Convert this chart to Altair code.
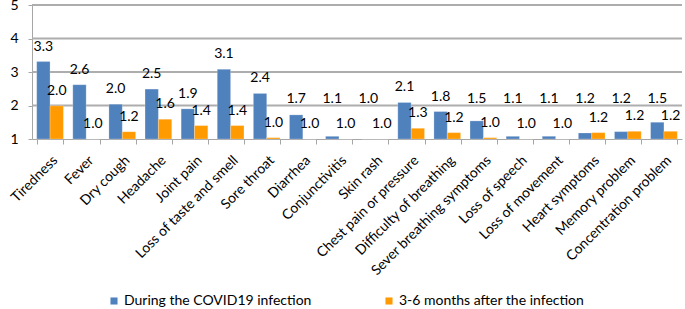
import altair as alt
import pandas as pd

categories = ["Tiredness", "Fever", "Dry cough", "Headache", "Joint pain",
              "Loss of taste and smell", "Sore throat", "Diarrhea", "Conjunctivitis",
              "Skin rash", "Chest pain or pressure", "Difficulty of breathing",
              "Sever breathing symptoms", "Loss of speech", "Loss of movement",
              "Heart symptoms", "Memory problem", "Concentration problem"]
during = [3.31, 2.62, 2.04, 2.49, 1.90, 3.08, 2.36, 1.72, 1.08, 1.0,
          2.09, 1.82, 1.54, 1.08, 1.08, 1.18, 1.22, 1.50]
after = [1.99, 1.0, 1.22, 1.59, 1.40, 1.40, 1.04, 1.0, 1.0, 1.0,
         1.32, 1.19, 1.04, 1.0, 1.0, 1.19, 1.23, 1.23]
series = ["During the COVID19 infection", "3-6 months after the infection"]
colors = ["#4F81BD", "#FF9A00"]
y_ticks = [1, 2, 3, 4, 5]

rows = []
for i, c in enumerate(categories):
    rows.append({"cat": c, "series": series[0], "order": 0, "value": during[i]})
    rows.append({"cat": c, "series": series[1], "order": 1, "value": after[i]})
df = pd.DataFrame(rows)
grid_df = pd.DataFrame({"tick": y_ticks[1:]})

FONT = "Lato"

x = alt.X("cat:N", sort=categories, title=None,
          scale=alt.Scale(paddingInner=0.26, paddingOuter=0.13),
          axis=alt.Axis(labelAngle=-45, labelFontSize=14, labelColor="#000000",
                        labelPadding=9, tickBand="extent", tickSize=5,
                        tickColor="#A6A6A6", domainColor="#A6A6A6", labelLimit=300,
                        labelAlign="right", labelBaseline="top", labelOverlap=False))
xoff = alt.XOffset("series:N", sort=series, scale=alt.Scale(paddingInner=0, paddingOuter=0))
yscale = alt.Scale(domain=[1, 5], nice=False, zero=False)
yaxis = alt.Axis(values=y_ticks, labelFontSize=14, labelColor="#000000",
                 tickSize=4, tickColor="#A6A6A6", domainColor="#A6A6A6",
                 grid=False, labelPadding=10, labelOverlap=False, labelFlush=False,
                 format="d")

grid = alt.Chart(grid_df).mark_rule(color="#ADADAD", strokeWidth=2).encode(
    x=alt.value(0),
    x2=alt.value(650),
    y=alt.Y("tick:Q", scale=yscale, title=None, axis=yaxis),
)

bars = alt.Chart(df).mark_bar(stroke="white", strokeWidth=0.4, strokeOpacity=0.6).encode(
    x=x,
    xOffset=xoff,
    y=alt.Y("value:Q", scale=yscale, title=None, axis=yaxis),
    y2=alt.datum(1),
    color=alt.Color("series:N", sort=series,
                    scale=alt.Scale(domain=series, range=colors),
                    legend=alt.Legend(title=None, orient="none", direction="horizontal",
                                      legendX=75, legendY=289, symbolType="square",
                                      symbolSize=50, symbolStrokeWidth=0,
                                      labelFontSize=14, labelColor="#000000",
                                      labelLimit=400, columnPadding=70, labelOffset=3)),
)

labels = alt.Chart(df).transform_calculate(
    pos="datum.order == 0 ? max(datum.value, 1.75) : datum.value"
).mark_text(fontSize=14, baseline="middle", dy=-15, color="#000000").encode(
    x=x,
    xOffset=xoff,
    y=alt.Y("pos:Q", scale=yscale, title=None, axis=yaxis),
    text=alt.Text("value:Q", format=".1f"),
)

chart = alt.layer(grid, bars, labels).properties(
    width=650, height=134,
    autosize=alt.AutoSizeParams(type="none"),
    padding={"left": 32, "top": 5, "right": 3, "bottom": 170},
).configure(font=FONT).configure_view(stroke=None)

chart.save("out.html", embed_options={"renderer": "svg", "actions": False})
